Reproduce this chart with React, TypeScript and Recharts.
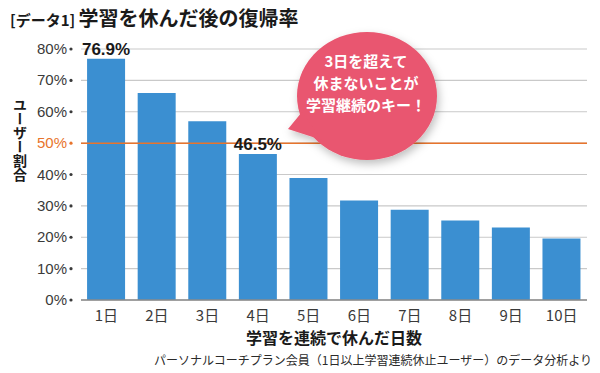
import React from 'react'
import { BarChart, Bar, XAxis, YAxis, CartesianGrid, ReferenceLine } from 'recharts'

const days = ['1日', '2日', '3日', '4日', '5日', '6日', '7日', '8日', '9日', '10日']
const rates = [76.9, 66, 57, 46.5, 38.9, 31.7, 28.8, 25.3, 23.1, 19.6]
const labeledDays = ['1日', '4日']
const yTicks = [0, 10, 20, 30, 40, 50, 60, 70, 80]

const data = days.map((day, i) => ({ day, rate: rates[i] }))

const NUM_FONT = '"Liberation Sans", "Noto Sans CJK JP", sans-serif'
const JP_FONT = '"Noto Sans CJK JP", sans-serif'
const BAR_BLUE = '#3b8fd1'
const ORANGE = '#e8742c'

const YTick = ({ x, y, payload }: any) => {
  const isHalf = payload.value === 50
  const color = isHalf ? ORANGE : '#3a3a3a'
  return (
    <g>
      <text x={x - 6} y={y} dy={5} textAnchor="end" fontSize={15} fontFamily={NUM_FONT} fill={color}>
        {payload.value}%
      </text>
      <circle cx={x - 2} cy={y} r={1.6} fill={color} />
    </g>
  )
}

const XTick = ({ x, y, payload }: any) => (
  <text x={x} y={y} dy={13} textAnchor="middle" fontSize={15} fontFamily={JP_FONT} fill="#3a3a3a">
    {payload.value}
  </text>
)

const ValueLabel = (props: any) => {
  const { x, y, width, index } = props
  if (!labeledDays.includes(days[index])) return null
  return (
    <text
      x={x + width / 2}
      y={y - 4}
      textAnchor="middle"
      fontSize={17}
      fontWeight="bold"
      fontFamily={NUM_FONT}
      fill="#1a1a1a"
    >
      {rates[index]}%
    </text>
  )
}

export default function App() {
  return (
    <div style={{ position: 'absolute', left: 0, top: 0, width: 600, height: 373, background: '#fff' }}>
      <BarChart
        width={600}
        height={373}
        data={data}
        margin={{ top: 49, right: 13, left: 0, bottom: 0 }}
        barCategoryGap="12%"
      >
        <CartesianGrid horizontal vertical={false} stroke="#c9c9c9" strokeWidth={1.2} />
        <YAxis
          domain={[0, 80]}
          ticks={yTicks}
          width={81}
          axisLine={false}
          tickLine={false}
          tick={<YTick />}
        />
        <XAxis
          dataKey="day"
          height={73}
          axisLine={{ stroke: '#8a8a8a', strokeWidth: 1.5 }}
          tickLine={false}
          tick={<XTick />}
        />
        <ReferenceLine y={50} stroke={ORANGE} strokeWidth={1.5} />
        <Bar dataKey="rate" fill={BAR_BLUE} isAnimationActive={false} label={<ValueLabel />} />
      </BarChart>

      <svg
        width={600}
        height={373}
        style={{ position: 'absolute', left: 0, top: 0, pointerEvents: 'none' }}
      >
        <defs>
          <filter id="bubbleShadow" x="-30%" y="-30%" width="160%" height="160%">
            <feDropShadow dx={2} dy={4} stdDeviation={4} floodColor="#000" floodOpacity={0.25} />
          </filter>
        </defs>

        {/* title */}
        <text x={10} y={26} fontFamily={JP_FONT} fontWeight="bold" fill="#1a1a1a">
          <tspan fontSize={15}>[データ1] </tspan>
          <tspan fontSize={20}>学習を休んだ後の復帰率</tspan>
        </text>

        {/* y axis title */}
        <text
          x={20}
          y={140}
          textAnchor="middle"
          fontSize={14}
          fontWeight="bold"
          fontFamily={JP_FONT}
          fill="#1a1a1a"
          style={{ writingMode: 'vertical-rl' }}
        >
          ユーザー割合
        </text>

        {/* speech bubble */}
        <g filter="url(#bubbleShadow)" fill="#e9566f">
          <ellipse cx={367} cy={96} rx={70} ry={64} />
          <path d="M 302 112 L 288 129 L 322 140 Z" />
        </g>
        <g fontFamily={JP_FONT} fontWeight="bold" fontSize={15} fill="#fff" textAnchor="middle">
          <text x={366} y={67}>3日を超えて</text>
          <text x={366} y={89}>休まないことが</text>
          <text x={366} y={111}>学習継続のキー！</text>
        </g>

        {/* x axis title */}
        <text x={334} y={344} textAnchor="middle" fontSize={16} fontWeight="bold" fontFamily={JP_FONT} fill="#1a1a1a">
          学習を連続で休んだ日数
        </text>

        {/* source note */}
        <text x={592} y={365} textAnchor="end" fontSize={12} fontFamily={JP_FONT} fill="#2a2a2a">
          パーソナルコーチプラン会員（1日以上学習連続休止ユーザー）のデータ分析より
        </text>
      </svg>
    </div>
  )
}
